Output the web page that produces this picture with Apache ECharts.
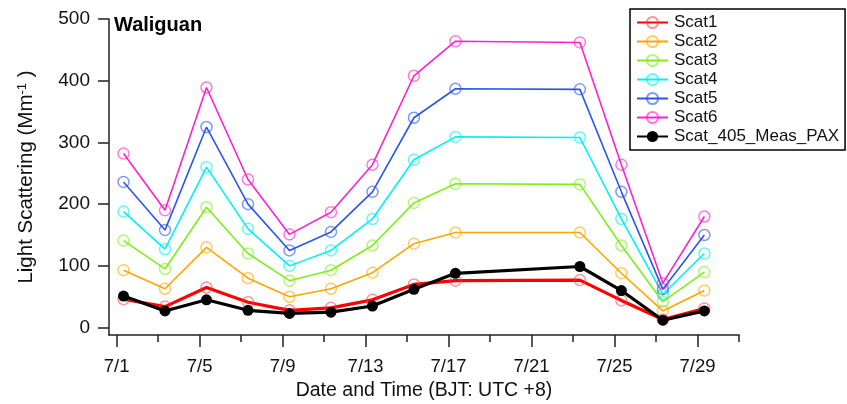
<!DOCTYPE html>
<html>
<head>
<meta charset="utf-8">
<script src="https://cdn.jsdelivr.net/npm/echarts@6/dist/echarts.min.js"></script>
<style>
html,body{margin:0;padding:0;background:#fff;}
#c{width:847px;height:404px;}
</style>
</head>
<body>
<div id="c"></div>
<script>
// Day of July for each measurement
const days = [1.33, 3.33, 5.33, 7.33, 9.33, 11.33, 13.33, 15.33, 17.33, 23.33, 25.33, 27.33, 29.33];
const scat1 = [46, 34, 65, 41, 28, 32, 45, 70, 76, 77, 44, 13, 31];
const scat2 = [93, 63, 130, 80, 50, 63, 89, 136, 154, 154, 88, 27, 60];
const scat3 = [141, 95, 195, 120, 76, 93, 133, 202, 233, 232, 133, 42, 90];
const scat4 = [188, 127, 260, 160, 100, 125, 176, 272, 309, 308, 176, 54, 120];
const scat5 = [236, 158, 325, 200, 125, 155, 220, 340, 387, 386, 220, 62, 150];
const scat6 = [282, 190, 389, 240, 151, 187, 264, 408, 464, 462, 264, 72, 180];
const pax   = [51, 27, 45, 28, 23, 25, 35, 62, 88, 99, 60, 12, 27];

const xLabelDays = [1, 5, 9, 13, 17, 21, 25, 29];
const xMinorDays = [3, 7, 11, 15, 19, 23, 27, 31];
const xTickLabels = ['7/1', '7/5', '7/9', '7/13', '7/17', '7/21', '7/25', '7/29'];
const yTicks = [0, 100, 200, 300, 400, 500];

const seriesNames = ['Scat1', 'Scat2', 'Scat3', 'Scat4', 'Scat5', 'Scat6', 'Scat_405_Meas_PAX'];
const seriesValues = [scat1, scat2, scat3, scat4, scat5, scat6, pax];
const colors = ['#ff0000', '#ffa500', '#7fee1a', '#00f2f2', '#2b55f0', '#ff22cc', '#000000'];
const markerBorders = ['rgba(255,60,60,0.55)', 'rgba(255,165,0,0.6)', 'rgba(127,238,26,0.6)', 'rgba(0,242,242,0.6)', 'rgba(43,85,240,0.6)', 'rgba(255,34,204,0.6)', '#000'];
const lineWidths = [3.2, 1.6, 1.6, 1.6, 1.6, 1.6, 3.2];

const series = seriesNames.map((name, i) => {
  const isPax = i === 6;
  return {
    name: name,
    type: 'line',
    xAxisIndex: 0,
    color: colors[i],
    data: days.map((d, k) => [d, seriesValues[i][k]]),
    symbol: 'circle',
    symbolSize: 11,
    lineStyle: { color: colors[i], width: lineWidths[i] },
    itemStyle: isPax ? { color: '#000', borderColor: '#000', borderWidth: 0 }
                     : { color: 'rgba(255,255,255,0)', borderColor: markerBorders[i], borderWidth: 1.5 },
    emphasis: { disabled: true },
    animation: false,
    z: 2 + i
  };
});

const chart = echarts.init(document.getElementById('c'), null, { renderer: 'canvas' });
const axisColor = '#222';
const textColor = '#111';
const font = 'Liberation Sans, Arial, sans-serif';

chart.setOption({
  animation: false,
  backgroundColor: '#fff',
  textStyle: { fontFamily: font },
  title: {
    text: 'Waliguan',
    left: 109, top: 10,
    textStyle: { fontFamily: font, fontSize: 20, fontWeight: 'bold', color: '#000' }
  },
  legend: {
    orient: 'vertical',
    left: 630, top: 9,
    padding: [5, 6, 5, 6],
    itemWidth: 31, itemHeight: 14, itemGap: 2,
    borderColor: '#000', borderWidth: 1.5,
    backgroundColor: '#fff',
    textStyle: { fontFamily: font, fontSize: 17, color: textColor, padding: [0, 0, 0, 1] },
    data: seriesNames
  },
  grid: { left: 109, right: 108, top: 19, bottom: 69, containLabel: false, outerBoundsMode: 'none' },
  xAxis: [{
    type: 'value',
    min: 0.63, max: 31,
    name: 'Date and Time (BJT: UTC +8)',
    nameLocation: 'middle', nameGap: 45,
    nameTextStyle: { fontFamily: font, fontSize: 19.5, color: textColor },
    axisLine: { show: true, onZero: false, lineStyle: { color: axisColor, width: 1.5 } },
    axisTick: { show: true, inside: false, length: 12, customValues: xLabelDays, lineStyle: { color: axisColor, width: 1.5 } },
    axisLabel: {
      show: true, margin: 22, customValues: xLabelDays,
      formatter: v => xTickLabels[xLabelDays.indexOf(Math.round(v))] || '',
      fontFamily: font, fontSize: 18.5, color: textColor
    },
    splitLine: { show: false }
  }, {
    type: 'value',
    min: 0.63, max: 31,
    position: 'bottom',
    axisLine: { show: false, onZero: false },
    axisTick: { show: true, inside: false, length: 7, customValues: xMinorDays, lineStyle: { color: axisColor, width: 1.5 } },
    axisLabel: { show: false },
    splitLine: { show: false }
  }],
  yAxis: {
    type: 'value',
    min: -12, max: 500,
    name: 'Light Scattering (Mm{sup|-1} )',
    nameLocation: 'middle', nameRotate: 90, nameGap: 72,
    nameTextStyle: {
      fontFamily: font, fontSize: 20.5, color: textColor,
      rich: { sup: { fontFamily: font, fontSize: 13, color: textColor, verticalAlign: 'top', padding: [0, 0, 8, 0] } }
    },
    axisLine: { show: true, onZero: false, lineStyle: { color: axisColor, width: 1.5 } },
    axisTick: { show: true, inside: false, length: 11, customValues: yTicks, lineStyle: { color: axisColor, width: 1.5 } },
    axisLabel: { show: true, margin: 19, customValues: yTicks, fontFamily: font, fontSize: 19, color: textColor },
    splitLine: { show: false }
  },
  series: series
});
</script>
</body>
</html>
